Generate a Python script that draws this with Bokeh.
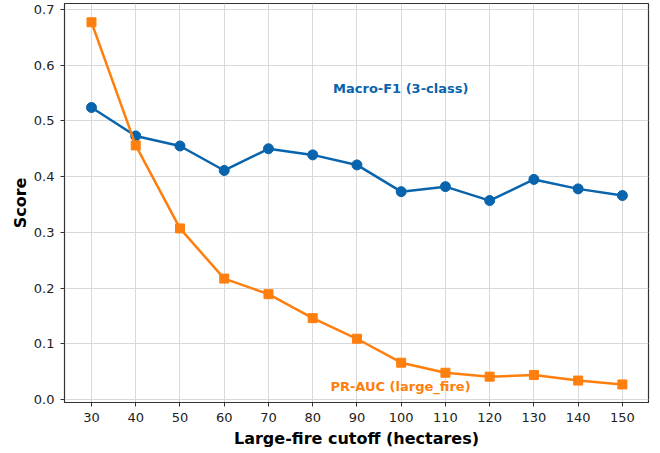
from bokeh.plotting import figure
from bokeh.models import FixedTicker, NumeralTickFormatter, Range1d, Label
from bokeh.embed import file_html
from bokeh.resources import INLINE

cutoffs = [30, 40, 50, 60, 70, 80, 90, 100, 110, 120, 130, 140, 150]
macro_f1 = [0.524, 0.473, 0.455, 0.411, 0.450, 0.439, 0.421, 0.373, 0.382, 0.357, 0.395, 0.378, 0.366]
pr_auc = [0.677, 0.456, 0.307, 0.217, 0.189, 0.146, 0.109, 0.066, 0.048, 0.041, 0.044, 0.034, 0.027]
y_ticks = [0.0, 0.1, 0.2, 0.3, 0.4, 0.5, 0.6, 0.7]

BLUE = "#0864ad"
ORANGE = "#ff7f0e"
FONT = "DejaVu Sans"

p = figure(width=652, height=450, output_backend="svg", toolbar_location=None,
           x_range=Range1d(23.9, 155.9), y_range=Range1d(-0.0054, 0.7107),
           min_border_left=64, min_border_right=4, min_border_top=3, min_border_bottom=46)

p.outline_line_color = "#333333"
p.outline_line_width = 1.2
p.background_fill_color = "white"
p.border_fill_color = "white"

p.xgrid.grid_line_color = "#d9d9d9"
p.ygrid.grid_line_color = "#d9d9d9"
p.xgrid.grid_line_width = 1
p.ygrid.grid_line_width = 1

p.xaxis.ticker = FixedTicker(ticks=cutoffs)
p.yaxis.ticker = FixedTicker(ticks=y_ticks)
p.yaxis.formatter = NumeralTickFormatter(format="0.0")

for ax in (p.xaxis, p.yaxis):
    ax.axis_line_color = "#333333"
    ax.major_tick_line_color = "#333333"
    ax.major_tick_out = 4
    ax.major_tick_in = 0
    ax.minor_tick_line_color = None
    ax.major_label_text_font = FONT
    ax.major_label_text_font_size = "13px"
    ax.major_label_text_color = "#222222"
    ax.axis_label_text_font = FONT
    ax.axis_label_text_font_style = "bold"
    ax.axis_label_text_font_size = "16px"
    ax.axis_label_text_color = "black"

p.xaxis.axis_label = "Large-fire cutoff (hectares)"
p.yaxis.axis_label = "Score"
p.xaxis.major_label_standoff = 6
p.xaxis.axis_label_standoff = 4
p.yaxis.major_label_standoff = 6
p.yaxis.axis_label_standoff = 1

p.line(cutoffs, macro_f1, line_color=BLUE, line_width=2.5)
p.scatter(cutoffs, macro_f1, marker="circle", size=10, fill_color=BLUE, line_color=BLUE)

p.line(cutoffs, pr_auc, line_color=ORANGE, line_width=2.5)
p.scatter(cutoffs, pr_auc, marker="square", size=9, fill_color=ORANGE, line_color=ORANGE)

p.add_layout(Label(x=84.6, y=0.559, text="Macro-F1 (3-class)", text_color=BLUE,
                   text_font=FONT, text_font_style="bold", text_font_size="13px",
                   text_baseline="middle", text_align="left"))
p.add_layout(Label(x=84.0, y=0.024, text="PR-AUC (large_fire)", text_color=ORANGE,
                   text_font=FONT, text_font_style="bold", text_font_size="13px",
                   text_baseline="middle", text_align="left"))

open("out.html", "w").write(file_html(p, INLINE))
